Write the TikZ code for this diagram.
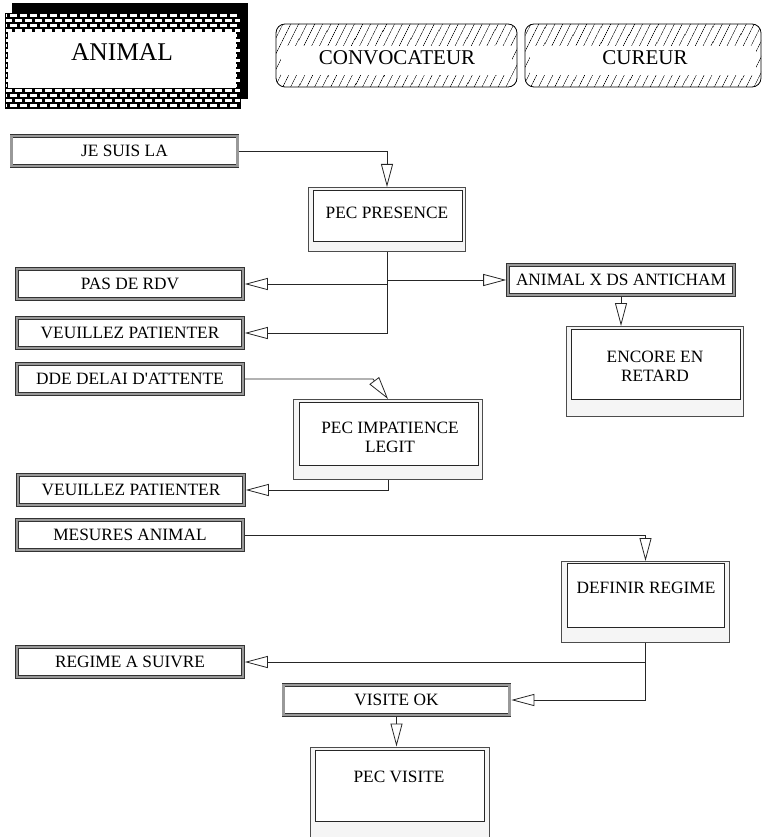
\documentclass[tikz,border=0pt]{standalone}
\usepackage{fontspec}
\setmainfont{Liberation Serif}
\usetikzlibrary{arrows.meta,patterns.meta}

\begin{document}
\begin{tikzpicture}[x=1pt,y=-1pt]
    \tikzset{
    msg/.style={draw=black!80, double=black!40, double distance=2.2pt, line width=0.7pt, fill=white, inner sep=0pt, outer sep=1.8pt, minimum width=226, minimum height=29.5, font=\fontsize{17.3}{19}\selectfont},
    procout/.style={draw=black!70, line width=1pt, fill=black!4, inner sep=0pt},
    procin/.style={draw=black!85, line width=0.8pt, fill=white, inner sep=0pt},
    proctext/.style={font=\fontsize{17.3}{19}\selectfont, align=center, inner sep=0pt},
    actor/.style={rounded corners=9pt, draw=black, line width=0.8pt, pattern={Lines[angle=63,distance=6.5pt,line width=0.7pt]}},
    actortext/.style={font=\fontsize{21}{24}\selectfont, inner sep=0pt},
    arc/.style={-{Triangle[open,length=23pt,width=12pt]}, draw=black!85, line width=0.8pt}
    }
    \useasboundingbox (0,0) rectangle (763,837);
    \clip (0,0) rectangle (763,837);

    % actors
    \fill[black] (12,3) rectangle (248,99);
    \begin{scope}
        \clip (5,13) rectangle (240,108);
        \fill[black] (5,13) rectangle (240,108);
        \foreach \r in {0,...,18}{
            \pgfmathsetmacro\off{mod(\r,2)*5}
            \foreach \c in {0,...,24}
                \fill[white] ({\off+10*\c},{14+5*\r}) rectangle ++(7,2.8);
        }
    \end{scope}
    \fill[white] (8,32) rectangle (236,88);
    \draw[black, line width=0.8pt] (5,13) rectangle (240,108);
    \draw node[font=\fontsize{25.5}{28}\selectfont, inner sep=0pt] (animal) at (122,52.5) {ANIMAL};

    \draw[actor] (276,24) rectangle (517,87);
    \fill[white] (281,46) rectangle (512,75);
    \draw node[actortext] (convoc) at (397,57.5) {CONVOCATEUR};
    \draw[actor] (525,24) rectangle (761,87);
    \fill[white] (530,46) rectangle (756,75);
    \draw node[actortext] (cureur) at (645,57.5) {CUREUR};

    % messages
    \draw node[msg] (jesuis) at (124.5,151) {JE SUIS LA};
    \draw node[msg] (pasrdv) at (130,284) {PAS DE RDV};
    \draw node[msg] (veuill1) at (130,333) {VEUILLEZ PATIENTER};
    \draw node[msg] (dde) at (130,379) {DDE DELAI D\textquotesingle ATTENTE};
    \draw node[msg] (veuill2) at (131,490) {VEUILLEZ PATIENTER};
    \draw node[msg] (mesures) at (130,535) {MESURES ANIMAL};
    \draw node[msg] (regime) at (130,662) {REGIME A SUIVRE};
    \draw node[msg] (antichm) at (621,280) {ANIMAL X DS ANTICHAM};
    \draw node[msg] (visite) at (396.5,700) {VISITE OK};

    % processes
    \draw node[procout, minimum width=157, minimum height=64] (presence) at (387,219.5) {};
    \draw node[procin, minimum width=149, minimum height=51] (presencein) at (387.5,215.5) {};
    \draw node[proctext] (presencetx) at (387,213) {PEC PRESENCE};

    \draw node[procout, minimum width=177, minimum height=90] (encore) at (655,371.5) {};
    \draw node[procin, minimum width=169, minimum height=70] (encorein) at (655.5,364) {};
    \draw node[proctext] (encoretx) at (655,366.5) {ENCORE EN\\RETARD};

    \draw node[procout, minimum width=189, minimum height=80] (impat) at (388,439.5) {};
    \draw node[procin, minimum width=179, minimum height=63] (impatin) at (388.5,433.5) {};
    \draw node[proctext] (impattx) at (390,437) {PEC IMPATIENCE\\LEGIT};

    \draw node[procout, minimum width=168, minimum height=81] (definir) at (645.5,602) {};
    \draw node[procin, minimum width=157, minimum height=64] (definirin) at (645.5,595) {};
    \draw node[proctext] (definirtx) at (646,588) {DEFINIR REGIME};

    \draw node[procout, minimum width=179, minimum height=100] (pecvis) at (400,797) {};
    \draw node[procin, minimum width=169, minimum height=71] (pecvisin) at (399.5,785.5) {};
    \draw node[proctext] (pecvistx) at (399,777) {PEC VISITE};

    \coordinate (ddebend) at (373,379);
    \draw[arc] (jesuis.east) -| (presence.north);
    \draw[arc] (presence.south) |- (veuill1.east);
    \draw[arc] (presence.south |- pasrdv.east) -- (pasrdv.east);
    \draw[arc] (presence.south |- antichm.west) -- (antichm.west);
    \draw[arc] (antichm.south) -- (antichm.south |- encore.north);
    \draw[arc] (dde.east) -- (ddebend) -- (impat.north);
    \draw[arc] (impat.south) |- (veuill2.east);
    \draw[arc] (mesures.east) -| (definir.north);
    \draw[arc] (definir.south) |- (visite.east);
    \draw[arc] (definir.south |- regime.east) -- (regime.east);
    \draw[arc] (visite.south) -- (visite.south |- pecvis.north);
\end{tikzpicture}
\end{document}
